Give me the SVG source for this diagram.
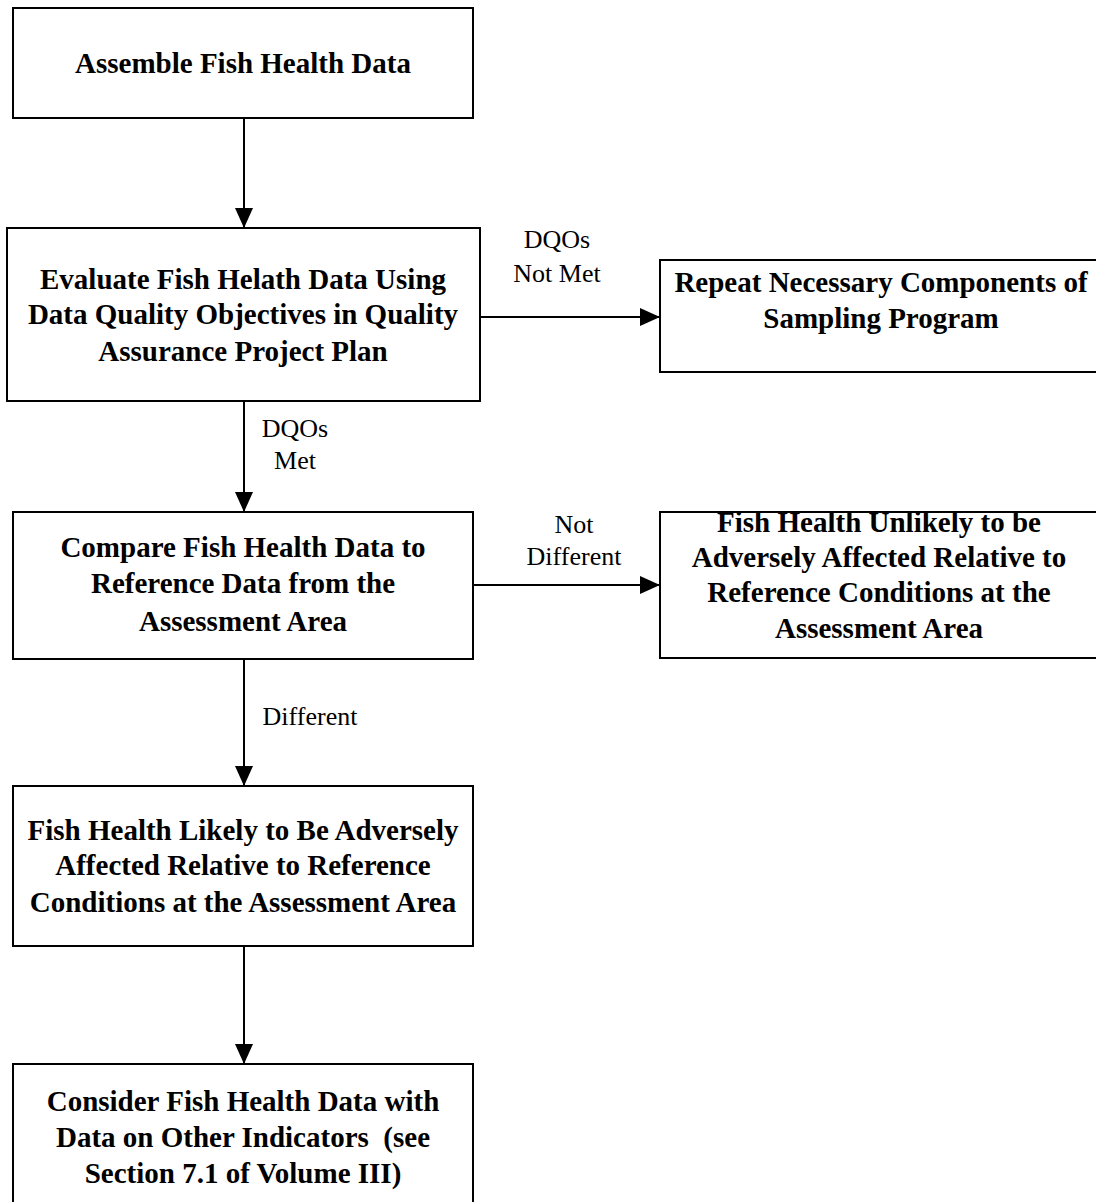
<svg xmlns="http://www.w3.org/2000/svg" width="1096" height="1202" viewBox="0 0 1096 1202">
<style>
.box{fill:#fff;stroke:#000;stroke-width:2}
.t{font-family:"Liberation Serif","Times New Roman",serif;font-weight:bold;font-size:29px;text-anchor:middle;fill:#000;white-space:pre}
.l{font-family:"Liberation Serif","Times New Roman",serif;font-size:26px;text-anchor:middle;fill:#000}
.c{stroke:#000;stroke-width:2;fill:none}
</style>
<defs>
<marker id="ah" markerUnits="userSpaceOnUse" markerWidth="20" markerHeight="18" refX="20" refY="9" orient="auto">
<path d="M0,0 L20,9 L0,18 Z" fill="#000"/>
</marker>
</defs>
<g id="connectors">
<line class="c" x1="244" y1="118" x2="244" y2="228" marker-end="url(#ah)"/>
<line class="c" x1="244" y1="401" x2="244" y2="512" marker-end="url(#ah)"/>
<line class="c" x1="244" y1="659" x2="244" y2="786" marker-end="url(#ah)"/>
<line class="c" x1="244" y1="946" x2="244" y2="1064" marker-end="url(#ah)"/>
<line class="c" x1="480" y1="317" x2="660" y2="317" marker-end="url(#ah)"/>
<line class="c" x1="473" y1="585" x2="660" y2="585" marker-end="url(#ah)"/>
<text class="l" x="557" y="248">DQOs</text>
<text class="l" x="557" y="282">Not Met</text>
<text class="l" x="295" y="437">DQOs</text>
<text class="l" x="295" y="469">Met</text>
<text class="l" x="574" y="533">Not</text>
<text class="l" x="574" y="565">Different</text>
<text class="l" x="310" y="725">Different</text>
</g>
<g id="n1">
<rect class="box" x="13" y="8" width="460" height="110"/>
<text class="t" x="243" y="73">Assemble Fish Health Data</text>
</g>
<g id="n2">
<rect class="box" x="7" y="228" width="473" height="173"/>
<text class="t" x="243" y="289">Evaluate Fish Helath Data Using</text>
<text class="t" x="243" y="324">Data Quality Objectives in Quality</text>
<text class="t" x="243" y="361">Assurance Project Plan</text>
</g>
<g id="n3">
<rect class="box" x="660" y="260" width="450" height="112"/>
<text class="t" x="881" y="292">Repeat Necessary Components of</text>
<text class="t" x="881" y="328">Sampling Program</text>
</g>
<g id="n4">
<rect class="box" x="13" y="512" width="460" height="147"/>
<text class="t" x="243" y="557">Compare Fish Health Data to</text>
<text class="t" x="243" y="593">Reference Data from the</text>
<text class="t" x="243" y="631">Assessment Area</text>
</g>
<g id="n5">
<rect class="box" x="660" y="512" width="450" height="146"/>
<text class="t" x="879" y="532">Fish Health Unlikely to be</text>
<text class="t" x="879" y="567">Adversely Affected Relative to</text>
<text class="t" x="879" y="602">Reference Conditions at the</text>
<text class="t" x="879" y="638">Assessment Area</text>
</g>
<g id="n6">
<rect class="box" x="13" y="786" width="460" height="160"/>
<text class="t" x="243" y="840">Fish Health Likely to Be Adversely</text>
<text class="t" x="243" y="875">Affected Relative to Reference</text>
<text class="t" x="243" y="912">Conditions at the Assessment Area</text>
</g>
<g id="n7">
<rect class="box" x="13" y="1064" width="460" height="150"/>
<text class="t" x="243" y="1111">Consider Fish Health Data with</text>
<text class="t" x="243" y="1147" xml:space="preserve">Data on Other Indicators  (see</text>
<text class="t" x="243" y="1183">Section 7.1 of Volume III)</text>
</g>
</svg>
